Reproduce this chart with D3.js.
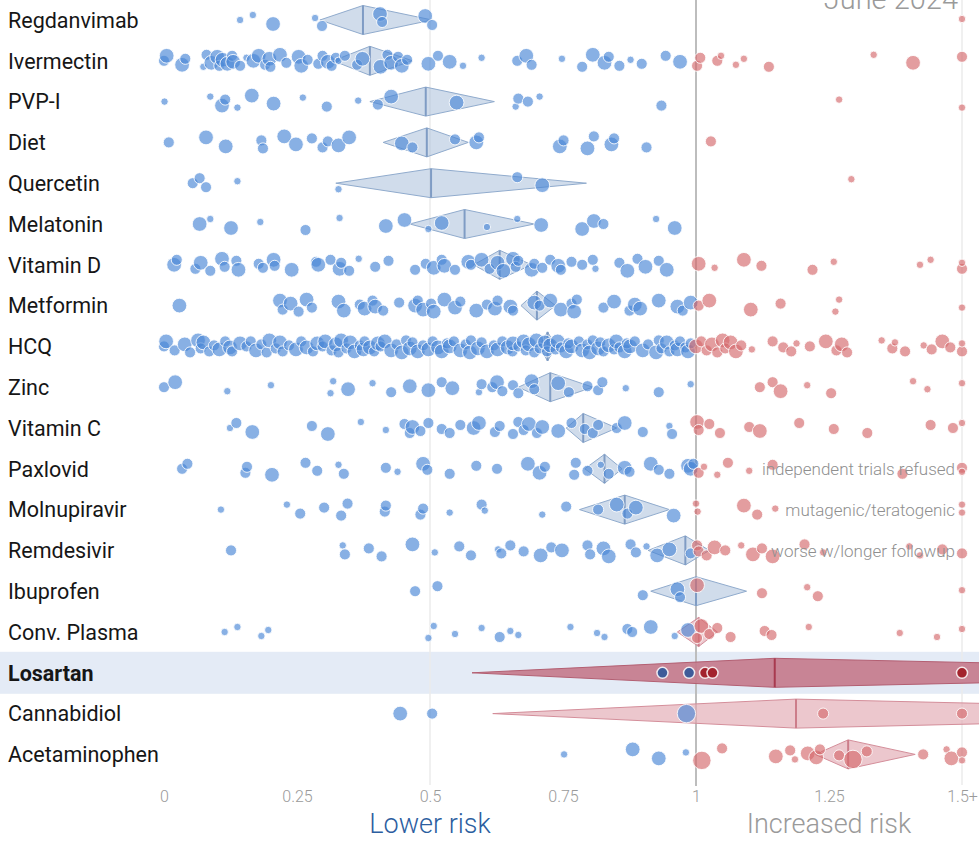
<!DOCTYPE html>
<html><head><meta charset="utf-8">
<script src="https://cdn.jsdelivr.net/npm/d3@7"></script>
<style>body{margin:0;background:#fff}svg{display:block;font-family:Roboto,"Noto Sans",sans-serif}</style>
</head><body><svg id="c" width="979" height="842"></svg>
<script>
// ---------- DATA ----------
const drugs = ["Regdanvimab","Ivermectin","PVP-I","Diet","Quercetin","Melatonin","Vitamin D","Metformin","HCQ","Zinc","Vitamin C","Paxlovid","Molnupiravir","Remdesivir","Ibuprofen","Conv. Plasma","Losartan","Cannabidiol","Acetaminophen"];
// pooled estimate and CI (relative risk); "1.5+" values beyond the axis
const ciLow  = [0.293,0.318,0.387,0.412,0.323,0.462,0.582,0.671,0.705,0.666,0.756,0.791,0.781,0.910,0.915,0.965,0.579,0.618,1.224];
const ciEst  = [0.374,0.387,0.492,0.494,0.502,0.565,0.631,0.701,0.721,0.726,0.788,0.828,0.866,0.980,1.000,1.005,1.148,1.188,1.286];
const ciHigh = [0.504,0.467,0.621,0.572,0.794,0.696,0.691,0.736,0.737,0.806,0.851,0.861,0.950,1.025,1.095,1.040,2.41,2.37,1.412];
const tickValues = [0,0.25,0.5,0.75,1,1.25,1.5];
const tickLabels = ["0","0.25","0.5","0.75","1","1.25","1.5+"];
const notes = {"Paxlovid":"independent trials refused","Molnupiravir":"mutagenic/teratogenic","Remdesivir":"worse w/longer followup"};
const highlight = "Losartan";
const dateLabel = "June 2024";

// individual studies: [relative risk (1.5 = 1.5+), weight class]
const regdanvimab = [[0.143,1],[0.167,1],[0.205,3],[0.284,1],[0.297,2],[0.406,3],[0.41,2],[0.491,3],[0.504,2],[1.5,1]];
const ivermectin = [[0.0,2],[0.005,3],[0.034,3],[0.04,2],[0.074,1],[0.08,2],[0.089,3],[0.1,3],[0.104,2],[0.11,3],[0.119,3],[0.128,2],[0.13,3],[0.143,2],[0.155,1],[0.168,3],[0.178,3],[0.19,2],[0.198,3],[0.2,2],[0.218,3],[0.23,2],[0.253,3],[0.258,3],[0.27,2],[0.29,2],[0.298,2],[0.308,3],[0.315,2],[0.323,2],[0.328,1],[0.34,2],[0.363,2],[0.373,3],[0.407,3],[0.42,2],[0.427,3],[0.44,2],[0.447,3],[0.457,2],[0.497,3],[0.515,2],[0.537,3],[0.562,1],[0.597,1],[0.664,2],[0.681,3],[0.691,2],[0.748,1],[0.786,2],[0.806,3],[0.828,3],[0.836,2],[0.856,2],[0.877,1],[0.898,2],[0.943,2],[0.970,3],
  [1.002,2],[1.008,2],[1.040,2],[1.047,1],[1.075,1],[1.090,1],[1.137,2],[1.334,1],[1.408,3],[1.5,2]];
const pvpi = [[0.001,1],[0.087,1],[0.109,3],[0.115,2],[0.138,1],[0.165,3],[0.206,3],[0.261,1],[0.306,2],[0.365,1],[0.402,2],[0.427,3],[0.550,3],[0.661,1],[0.666,2],[0.684,2],[0.706,1],[0.935,2],[1.269,1],[1.5,1]];
const diet = [[0.009,2],[0.079,3],[0.116,3],[0.183,2],[0.186,2],[0.226,3],[0.248,3],[0.278,2],[0.298,2],[0.308,2],[0.328,3],[0.348,3],[0.447,3],[0.467,2],[0.547,2],[0.587,3],[0.592,2],[0.744,3],[0.751,2],[0.796,3],[0.808,2],[0.841,3],[0.846,2],[0.907,2],[1.028,2]];
const quercetin = [[0.054,2],[0.067,2],[0.079,2],[0.138,1],[0.328,1],[0.664,2],[0.711,3],[1.292,1]];
const melatonin = [[0.067,3],[0.087,1],[0.126,3],[0.181,1],[0.266,2],[0.330,1],[0.417,3],[0.452,3],[0.497,1],[0.522,3],[0.607,1],[0.664,1],[0.709,3],[0.786,3],[0.808,3],[0.826,2],[0.925,1],[0.960,3]];
const vitaminD = [[0.019,3],[0.024,2],[0.059,2],[0.069,3],[0.087,2],[0.109,3],[0.114,2],[0.136,2],[0.140,3],[0.178,2],[0.186,2],[0.206,3],[0.208,2],[0.240,3],[0.286,2],[0.290,3],[0.313,2],[0.330,3],[0.333,2],[0.348,2],[0.366,1],[0.397,2],[0.422,2],[0.472,2],[0.492,2],[0.507,3],[0.522,2],[0.527,3],[0.547,2],[0.572,3],[0.577,2],[0.597,3],[0.612,2],[0.627,3],[0.638,3],[0.656,3],[0.661,2],[0.666,2],[0.691,3],[0.696,2],[0.711,2],[0.726,2],[0.741,3],[0.746,2],[0.766,2],[0.786,2],[0.806,2],[0.811,1],[0.856,2],[0.871,3],[0.890,2],[0.905,3],[0.930,2],[0.945,3],
  [1.005,3],[1.035,1],[1.090,3],[1.123,2],[1.219,2],[1.259,1],[1.421,1],[1.441,1],[1.5,2],[1.5,1]];
const metformin = [[0.029,3],[0.218,3],[0.223,2],[0.238,3],[0.253,2],[0.268,3],[0.278,2],[0.328,3],[0.338,3],[0.368,2],[0.377,3],[0.392,2],[0.397,3],[0.412,2],[0.442,2],[0.472,3],[0.477,2],[0.487,3],[0.502,2],[0.507,3],[0.527,3],[0.547,3],[0.557,2],[0.587,3],[0.607,2],[0.622,3],[0.627,2],[0.651,3],[0.656,2],[0.696,3],[0.706,2],[0.726,3],[0.746,3],[0.766,2],[0.771,3],[0.776,2],[0.826,2],[0.846,3],[0.875,2],[0.885,3],[0.895,3],[0.930,3],[0.965,3],[0.975,2],[0.990,3],
  [1.005,2],[1.025,3],[1.103,3],[1.159,2],[1.262,1],[1.269,1],[1.5,1]];
const hcq = [[0.0,2],[0.004,3],[0.02,2],[0.039,3],[0.049,2],[0.064,3],[0.069,2],[0.074,3],[0.085,2],[0.094,2],[0.104,3],[0.115,2],[0.124,3],[0.128,2],[0.143,3],[0.155,2],[0.163,2],[0.173,3],[0.183,2],[0.193,2],[0.198,3],[0.21,2],[0.218,3],[0.223,2],[0.235,2],[0.248,3],[0.258,2],[0.268,3],[0.28,2],[0.288,3],[0.298,2],[0.303,3],[0.315,2],[0.323,3],[0.328,2],[0.333,3],[0.343,2],[0.35,3],[0.358,3],[0.368,2],[0.375,3],[0.377,2],[0.387,3],[0.395,2],[0.402,3],[0.407,2],[0.415,3],[0.427,3],[0.437,2],[0.447,3],[0.455,2],[0.462,3],[0.467,2],[0.477,3],[0.487,2],[0.497,3],[0.505,2],[0.515,3],[0.522,3],[0.532,2],[0.537,3],[0.545,2],[0.557,3],[0.567,2],[0.575,3],[0.577,2],[0.59,3],[0.597,2],[0.607,3],[0.62,2],[0.627,3],[0.636,2],[0.646,3],[0.655,2],[0.656,3],[0.666,2],[0.676,3],[0.68,2],[0.686,3],[0.696,2],[0.7,3],[0.706,2],[0.716,3],[0.72,2],[0.726,3],[0.736,2],[0.74,3],[0.746,2],[0.756,3],[0.76,2],[0.766,3],[0.78,2],[0.786,3],[0.796,2],[0.8,3],[0.806,2],[0.816,3],[0.82,2],[0.826,2],[0.836,3],[0.846,2],[0.85,3],[0.856,2],[0.866,3],[0.87,2],[0.876,3],[0.885,2],[0.9,3],[0.91,2],[0.925,3],[0.93,2],[0.935,2],[0.945,3],[0.95,2],[0.96,2],[0.965,3],[0.97,2],[0.98,2],[0.985,3],[0.990,2],
  [1.0,3],[1.01,2],[1.02,2],[1.03,3],[1.04,2],[1.05,3],[1.055,2],[1.065,3],[1.075,3],[1.085,2],[1.105,1],[1.144,2],[1.164,2],[1.179,2],[1.189,1],[1.214,2],[1.244,3],[1.264,2],[1.274,3],[1.284,2],[1.349,1],[1.369,2],[1.374,1],[1.393,2],[1.428,1],[1.443,2],[1.463,3],[1.478,2],[1.5,2],[1.5,1]];
const zinc = [[0.0,2],[0.021,3],[0.119,1],[0.201,1],[0.313,1],[0.318,1],[0.346,3],[0.392,1],[0.427,2],[0.462,3],[0.497,3],[0.522,2],[0.542,3],[0.592,1],[0.597,2],[0.617,2],[0.626,3],[0.636,2],[0.656,2],[0.666,2],[0.691,3],[0.696,2],[0.741,3],[0.761,2],[0.796,2],[0.816,2],[0.824,2],[0.868,1],[0.930,2],[0.990,1],
  [1.120,2],[1.144,2],[1.159,3],[1.209,1],[1.254,2],[1.408,1],[1.435,1],[1.5,1]];
const vitaminC = [[0.124,1],[0.136,2],[0.166,3],[0.278,2],[0.308,3],[0.370,1],[0.417,1],[0.452,2],[0.462,2],[0.467,3],[0.482,2],[0.497,2],[0.522,2],[0.537,2],[0.557,2],[0.582,3],[0.592,3],[0.622,2],[0.631,2],[0.656,2],[0.666,2],[0.676,2],[0.686,3],[0.701,2],[0.711,3],[0.741,3],[0.766,2],[0.791,2],[0.806,2],[0.816,2],[0.851,2],[0.866,3],[0.900,2],[0.950,1],[0.955,2],
  [1.002,3],[1.005,2],[1.025,2],[1.045,2],[1.100,2],[1.120,3],[1.194,2],[1.259,2],[1.322,2],[1.441,2],[1.483,2],[1.5,1]];
const paxlovid = [[0.034,2],[0.044,2],[0.153,2],[0.156,2],[0.203,3],[0.266,2],[0.288,2],[0.328,1],[0.338,2],[0.417,2],[0.439,1],[0.487,3],[0.495,2],[0.537,2],[0.587,2],[0.626,2],[0.684,3],[0.706,3],[0.716,2],[0.771,2],[0.774,2],[0.796,2],[0.821,1],[0.836,2],[0.866,3],[0.875,2],[0.915,3],[0.930,2],[0.950,2],[0.985,3],[0.990,3],[0.995,2],
  [1.005,2],[1.015,1],[1.040,1],[1.060,2],[1.100,1],[1.144,2],[1.388,2],[1.5,2],[1.5,1]];
const molnupiravir = [[0.107,1],[0.231,1],[0.256,2],[0.301,2],[0.333,2],[0.345,2],[0.415,2],[0.417,2],[0.482,2],[0.487,2],[0.537,1],[0.597,2],[0.603,1],[0.711,1],[0.756,2],[0.816,2],[0.851,3],[0.871,2],[0.887,3],[0.958,3],
  [1.0,1],[1.003,1],[1.090,3],[1.115,2],[1.149,1],[1.5,1],[1.5,1]];
const remdesivir = [[0.126,2],[0.336,1],[0.340,2],[0.385,2],[0.409,2],[0.467,3],[0.509,1],[0.555,2],[0.577,2],[0.628,1],[0.634,2],[0.651,2],[0.676,2],[0.708,3],[0.728,2],[0.748,3],[0.796,2],[0.801,2],[0.826,3],[0.836,3],[0.877,2],[0.887,2],[0.907,1],[0.927,3],[0.950,3],[0.990,2],
  [1.002,2],[1.005,2],[1.020,2],[1.035,3],[1.055,2],[1.085,1],[1.107,3],[1.124,2],[1.144,3],[1.204,2],[1.239,1],[1.401,1],[1.421,1],[1.463,2],[1.5,2]];
const ibuprofen = [[0.472,2],[0.514,2],[0.900,2],[0.965,3],[0.970,2],[1.002,3],[1.124,2],[1.209,1],[1.229,2],[1.5,1]];
const convPlasma = [[0.114,1],[0.138,1],[0.183,1],[0.196,1],[0.497,1],[0.507,1],[0.547,1],[0.597,1],[0.631,2],[0.651,1],[0.666,1],[0.764,1],[0.814,1],[0.828,1],[0.871,2],[0.880,2],[0.915,3],[0.960,1],[0.985,3],
  [1.002,2],[1.010,3],[1.025,2],[1.040,2],[1.065,2],[1.129,2],[1.142,2],[1.212,1],[1.383,1],[1.453,1],[1.5,1]];
const losartan = [[0.937,2],[0.987,2],[1.017,2],[1.031,2],[1.5,2]];
const cannabidiol = [[0.444,3],[0.504,2],[0.982,4],[1.239,2],[1.5,2]];
const acetaminophen = [[0.752,1],[0.881,3],[0.930,3],[0.981,1],[1.011,4],[1.049,2],[1.150,3],[1.177,2],[1.186,1],[1.210,3],[1.226,3],[1.233,2],[1.269,2],[1.295,4],[1.321,2],[1.427,2],[1.471,1],[1.480,3],[1.5,2],[1.5,1]];
const studies = [regdanvimab,ivermectin,pvpi,diet,quercetin,melatonin,vitaminD,metformin,hcq,zinc,vitaminC,paxlovid,molnupiravir,remdesivir,ibuprofen,convPlasma,losartan,cannabidiol,acetaminophen];

// ---------- DRAW ----------
const svg = d3.select("#c");
const x = d3.scaleLinear().domain([0,1.5]).range([164,962]);
const y = d3.scalePoint().domain(drugs).range([20,754.4]);
const r = d3.scaleLinear().domain([1,4]).range([3.7,9.2]);
const jitter = [0,-5,4,-2,6,-6,2,-4,5,-1,3,-5,1,5,-3];
const dh = 14.5;

svg.append("rect").attr("x",0).attr("y",y(highlight)-21).attr("width",979).attr("height",42).attr("fill","#e4ebf6");

// reference lines
[0.5,1.5].forEach(v=>svg.append("line").attr("x1",x(v)).attr("x2",x(v)).attr("y1",0).attr("y2",785).attr("stroke","#ebebeb").attr("stroke-width",1.5));
svg.append("line").attr("x1",x(1)).attr("x2",x(1)).attr("y1",0).attr("y2",786).attr("stroke","#bdbdbd").attr("stroke-width",2);

// date label (partly above the top edge, as in the source)
svg.append("text").attr("x",958).attr("y",9).attr("text-anchor","end").attr("font-size",29).attr("font-weight",300).attr("fill","#9a9a9a").text(dateLabel);

// row labels
svg.selectAll("text.lab").data(drugs).join("text").attr("class","lab")
  .attr("x",8).attr("y",d=>y(d)).attr("dy","0.36em").attr("font-size",21.5)
  .attr("font-weight",d=>d===highlight?700:400).attr("fill","#161616").text(d=>d);

// diamonds
drugs.forEach((d,i)=>{
  const yc=y(d), lo=ciLow[i], est=ciEst[i], hi=ciHigh[i];
  let fill,stroke,mid,op;
  if(d===highlight){fill="#c4798b";stroke="#b35f72";mid="#a83a4f";op=0.9;}
  else if(est>1){fill="#e2a9b2";stroke="#d48e9a";mid="#cc7d8a";op=0.65;}
  else {fill="#a9bfdb";stroke="#90abcd";mid="#7f9cc4";op=0.55;}
  const g=svg.append("g");
  g.append("path").attr("d",`M${x(lo)},${yc}L${x(est)},${yc-dh}L${x(hi)},${yc}L${x(est)},${yc+dh}Z`)
    .attr("fill",fill).attr("fill-opacity",op).attr("stroke",stroke).attr("stroke-width",1);
  g.append("line").attr("x1",x(est)).attr("x2",x(est)).attr("y1",yc-dh).attr("y2",yc+dh).attr("stroke",mid).attr("stroke-width",2);
});

// study dots
drugs.forEach((d,i)=>{
  const yc=y(d), hl=d===highlight, flat=(d==="Cannabidiol"||hl);
  svg.append("g").selectAll("circle").data(studies[i]).join("circle")
    .attr("cx",s=>x(Math.min(s[0],1.5)))
    .attr("cy",(s,j)=>yc+(flat?0:jitter[j%jitter.length]))
    .attr("r",s=>hl?5.5:r(s[1]))
    .attr("fill",s=>hl?(s[0]<1?"#3f5b99":"#a3232d"):(s[0]<1?"#4a87d6":"#d46b6d"))
    .attr("fill-opacity",hl?1:0.66)
    .attr("stroke","#fff").attr("stroke-opacity",0.85).attr("stroke-width",hl?1.5:1);
});

// annotations
Object.entries(notes).forEach(([k,t])=>{
  svg.append("text").attr("x",955).attr("y",y(k)).attr("dy","0.36em").attr("text-anchor","end")
    .attr("font-size",17).attr("font-weight",300).attr("fill","#8f8f8f").text(t);
});

// axis
const ax = svg.append("g").attr("transform","translate(0,796)")
  .call(d3.axisBottom(x).tickValues(tickValues).tickFormat((v,i)=>tickLabels[i]).tickSize(0));
ax.select(".domain").remove();
ax.selectAll("text").attr("y",0).attr("dy","0.36em").attr("font-size",16).attr("font-weight",300)
  .attr("fill","#9a9a9a").attr("font-family","Roboto,sans-serif");

svg.append("text").attr("x",x(0.5)).attr("y",833).attr("text-anchor","middle").attr("font-size",27).attr("font-weight",300).attr("fill","#2c5e9f").text("Lower risk");
svg.append("text").attr("x",x(1.25)).attr("y",833).attr("text-anchor","middle").attr("font-size",27).attr("font-weight",300).attr("fill","#9a9a9a").text("Increased risk");
</script></body></html>
